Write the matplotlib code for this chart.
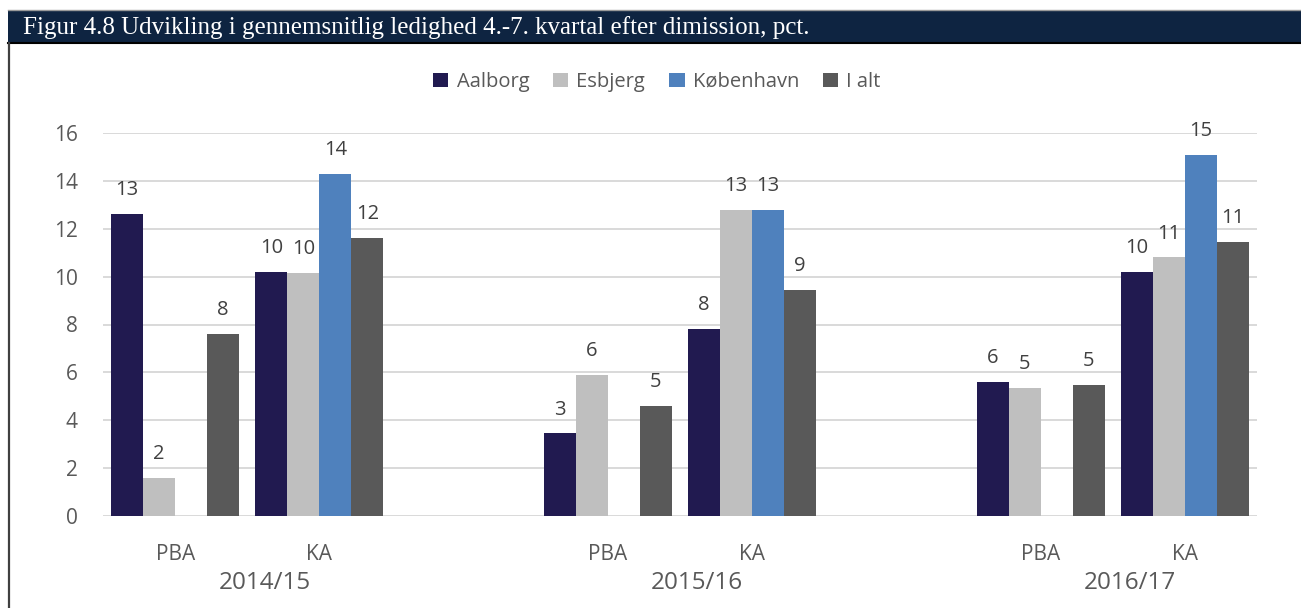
import numpy as np
import matplotlib
matplotlib.use("Agg")
import matplotlib.pyplot as plt
from matplotlib.patches import Rectangle
from matplotlib.lines import Line2D

# ---- data -------------------------------------------------------------
years = ["2014/15", "2015/16", "2016/17"]
programmes = ["PBA", "KA"]
series_names = ["Aalborg", "Esbjerg", "København", "I alt"]

# values per (year, programme): PBA 14/15, KA 14/15, PBA 15/16, KA 15/16, PBA 16/17, KA 16/17
aalborg = [12.6, 10.2, 3.45, 7.8, 5.6, 10.2]
esbjerg = [1.6, 10.15, 5.9, 12.8, 5.35, 10.8]
koebenhavn = [np.nan, 14.3, np.nan, 12.8, np.nan, 15.1]
i_alt = [7.6, 11.6, 4.6, 9.45, 5.47, 11.45]

series = [aalborg, esbjerg, koebenhavn, i_alt]
colors = ["#211a50", "#bfbfbf", "#4f81bd", "#595959"]

title = "Figur 4.8 Udvikling i gennemsnitlig ledighed 4.-7. kvartal efter dimission, pct."

# ---- figure -----------------------------------------------------------
W, H = 1301, 608
fig = plt.figure(figsize=(W / 100, H / 100), dpi=100)
fig.patch.set_facecolor("white")

sans = ["Open Sans", "DejaVu Sans"]
tick_color = "#595959"
label_color = "#404040"

# title banner
fig.patches.append(Rectangle((8 / W, 1 - 43 / H), 1 - 8 / W, 33 / H,
                             transform=fig.transFigure, facecolor="#0e2441",
                             edgecolor="none", zorder=0))
fig.add_artist(Line2D([8 / W, 1], [1 - 42.5 / H, 1 - 42.5 / H],
                      transform=fig.transFigure, color="black", lw=1.5))
fig.add_artist(Line2D([8 / W, 1], [1 - 10 / H, 1 - 10 / H],
                      transform=fig.transFigure, color="#9a9a9a", lw=1.0))
fig.add_artist(Line2D([8.5 / W, 8.5 / W], [0, 1 - 43 / H],
                      transform=fig.transFigure, color="#404040", lw=1.6))
fig.text(23 / W, 1 - 28 / H, title, color="white", fontsize=18,
         family=["Liberation Serif", "DejaVu Serif"], ha="left", va="center")

# plot area
left, right = 103 / W, 1257 / W
bottom, top = (H - 516) / H, (H - 133) / H
ax = fig.add_axes([left, bottom, right - left, top - bottom])

# category slots: two programmes per year, one empty slot between years
positions = []
for gi in range(len(years)):
    for pi in range(len(programmes)):
        positions.append(gi * 3 + pi)
positions = np.array(positions, dtype=float)

n = len(series)
bw = 0.222
offsets = (np.arange(n) - (n - 1) / 2) * bw

for name, vals, col, off in zip(series_names, series, colors, offsets):
    vals = np.array(vals, dtype=float)
    ok = ~np.isnan(vals)
    bars = ax.bar(positions[ok] + off, vals[ok], width=bw, color=col,
                  label=name, zorder=3)
    for b, v in zip(bars, vals[ok]):
        ax.annotate(f"{v:.0f}", (b.get_x() + b.get_width() / 2, v),
                    xytext=(0, 10), textcoords="offset points",
                    ha="center", va="bottom", fontsize=14.5,
                    color=label_color, family=sans)

ax.set_xlim(-0.5, 7.5)
ax.set_ylim(0, 16)
ax.set_yticks(np.arange(0, 17, 2))
ax.yaxis.grid(True, color="#d9d9d9", lw=1.4, zorder=0)
ax.set_axisbelow(True)
for s in ax.spines.values():
    s.set_visible(False)
ax.tick_params(axis="y", length=0, pad=18, labelsize=15, labelcolor=tick_color)
for t in ax.get_yticklabels():
    t.set_family(sans)
ax.set_xticks([])

# two-level category axis
for gi, yr in enumerate(years):
    for pi, prog in enumerate(programmes):
        x = gi * 3 + pi
        ax.text(x, -(555 - 516) / 383 * 16, prog, transform=ax.transData,
                ha="center", va="center", fontsize=15, color=tick_color,
                family=sans, clip_on=False)
    ax.text(gi * 3 + 0.62, -(583 - 516) / 383 * 16, yr, transform=ax.transData,
            ha="center", va="center", fontsize=17.5, color=tick_color,
            family=sans, clip_on=False)

leg = fig.legend(loc="center", bbox_to_anchor=(0.505, 1 - 82 / H), ncol=4,
                 frameon=False, handlelength=0.75, handleheight=0.75,
                 handletextpad=0.4, columnspacing=1.2,
                 prop={"family": sans, "size": 14.5})
for t in leg.get_texts():
    t.set_color(tick_color)

fig.savefig("out.png", dpi=100)
